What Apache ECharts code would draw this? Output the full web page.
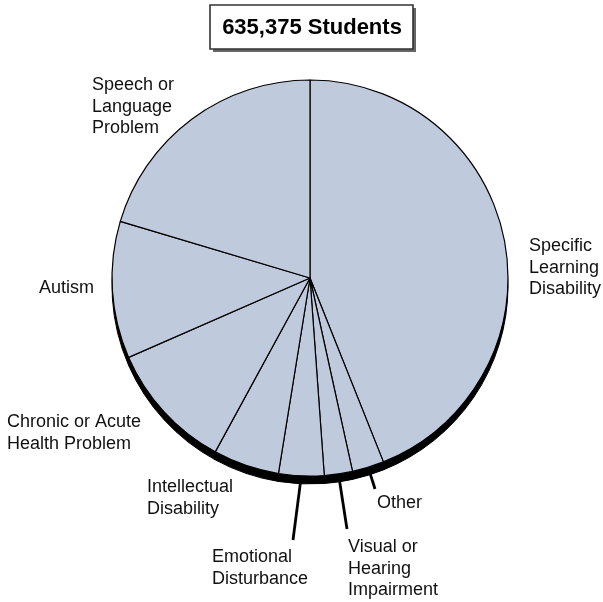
<!DOCTYPE html>
<html><head><meta charset="utf-8">
<script src="https://cdn.jsdelivr.net/npm/echarts@6/dist/echarts.min.js"></script>
<style>html,body{margin:0;padding:0;background:#fff}#c{width:603px;height:602px}</style>
</head><body><div id="c"></div>
<script>
// ---- data ----
const categories = [
  'Specific\nLearning\nDisability',
  'Other',
  'Visual or\nHearing\nImpairment',
  'Emotional\nDisturbance',
  'Intellectual\nDisability',
  'Chronic or Acute\nHealth Problem',
  'Autism',
  'Speech or\nLanguage\nProblem'
];
const shares = [44.0, 2.6, 2.3, 3.7, 5.4, 10.5, 11.2, 20.4];
const titleText = '635,375 Students';
const withLeader = [false, true, true, true, false, false, false, false];

// ---- layout ----
const labelPos = [[529,235],[377,492],[348,536],[212,546],[147,476],[7,411],[39,277],[92,74]];
const leaderEnd = [null,[375,489],[347,529],[293,540],null,null,null,null];

const FONT = '"Liberation Sans", Arial, Helvetica, sans-serif';
const chart = echarts.init(document.getElementById('c'), null, {renderer: 'canvas'});

const mainData = categories.map((c, i) => ({
  name: c, value: shares[i],
  labelLine: {show: withLeader[i]}
}));
const shadowData = categories.map((c, i) => ({name: c, value: shares[i]}));

chart.setOption({
  animation: false,
  backgroundColor: '#fff',
  graphic: [
    {type: 'rect', z: 0, shape: {x: 213, y: 8, width: 203, height: 44}, style: {fill: '#666'}},
    {type: 'rect', z: 1, shape: {x: 210, y: 5, width: 203, height: 44}, style: {fill: '#fff', stroke: '#333', lineWidth: 1.6}}
  ],
  title: {
    text: titleText,
    left: 312, top: 17, textAlign: 'center',
    padding: 0,
    z: 10,
    textStyle: {fontFamily: FONT, fontSize: 22, fontWeight: 'bold', color: '#000'}
  },
  series: [
    {
      type: 'pie', silent: true, z: 1,
      center: [310, 286], radius: 198,
      startAngle: 90, clockwise: true,
      data: shadowData,
      label: {show: false}, labelLine: {show: false},
      itemStyle: {color: '#000', borderColor: '#000', borderWidth: 1}
    },
    {
      type: 'pie', z: 2,
      center: [310, 278], radius: 198,
      startAngle: 90, clockwise: true,
      avoidLabelOverlap: false,
      data: mainData,
      itemStyle: {color: '#bfcadc', borderColor: '#000', borderWidth: 1.2},
      label: {
        show: true, position: 'outside',
        fontFamily: FONT, fontSize: 18, lineHeight: 21.7, color: '#111'
      },
      labelLine: {show: false, length: 12, length2: 0, lineStyle: {color: '#000', width: 2.8}},
      labelLayout: function (p) {
        const i = p.dataIndex;
        const q = labelPos[i];
        const out = {x: q[0], y: q[1], align: 'left', verticalAlign: 'top'};
        if (leaderEnd[i] && p.labelLinePoints) {
          out.labelLinePoints = [p.labelLinePoints[0], leaderEnd[i], leaderEnd[i]];
        }
        return out;
      }
    }
  ]
});
</script></body></html>
